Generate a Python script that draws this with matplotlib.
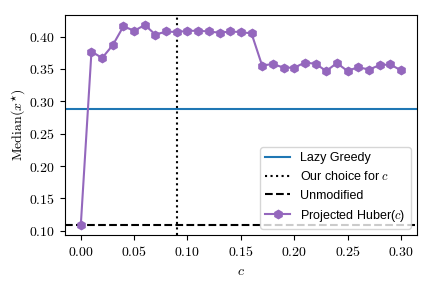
import numpy as np
import matplotlib.pyplot as plt
from matplotlib.ticker import FormatStrFormatter

plt.rcParams['mathtext.fontset'] = 'cm'
plt.rcParams['font.family'] = 'Liberation Sans'

c_vals = [0.00, 0.01, 0.02, 0.03, 0.04, 0.05, 0.06, 0.07, 0.08, 0.09, 0.10,
          0.11, 0.12, 0.13, 0.14, 0.15, 0.16, 0.17, 0.18, 0.19, 0.20,
          0.21, 0.22, 0.23, 0.24, 0.25, 0.26, 0.27, 0.28, 0.29, 0.30]
huber_median = [0.109, 0.377, 0.367, 0.387, 0.416, 0.409, 0.418, 0.403, 0.408, 0.407, 0.409,
                0.409, 0.408, 0.406, 0.408, 0.407, 0.405, 0.355, 0.358, 0.352, 0.352,
                0.360, 0.358, 0.347, 0.359, 0.347, 0.353, 0.349, 0.356, 0.357, 0.348]
lazy_greedy = 0.2877
unmodified = 0.1092
our_c = 0.09

fig = plt.figure(figsize=(4.32, 2.88), dpi=100)
ax = fig.add_axes([0.150, 0.184, 0.815, 0.764])

ax.axhline(lazy_greedy, color='tab:blue', label='Lazy Greedy')
ax.axvline(our_c, color='black', linestyle=':', label='Our choice for $c$')
ax.axhline(unmodified, color='black', linestyle='--', label='Unmodified')
ax.plot(c_vals, huber_median, marker='h', markersize=6, color='tab:purple',
        label='Projected Huber($c$)')

ax.xaxis.set_major_formatter(FormatStrFormatter('$%.2f$'))
ax.yaxis.set_major_formatter(FormatStrFormatter('$%.2f$'))
ax.tick_params(labelsize=10)
ax.set_xlabel('$c$', fontsize=10)
ax.set_ylabel(r'$\mathrm{Median}(x^{\star})$', fontsize=10, labelpad=1)
ax.legend(loc='lower right', fontsize=9)

fig.savefig('out.png', dpi=100)
